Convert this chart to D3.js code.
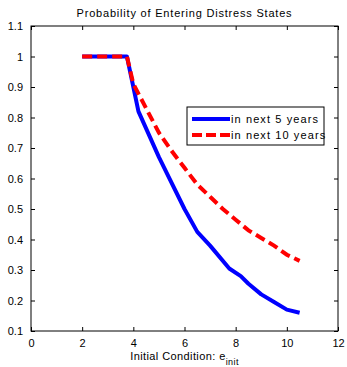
<!DOCTYPE html>
<html>
<head>
<meta charset="utf-8">
<script src="https://cdn.jsdelivr.net/npm/d3@7"></script>
<style>
  body { margin: 0; background: #fff; }
  text { font-family: "Liberation Sans", Arial, sans-serif; fill: #000; }
</style>
</head>
<body>
<svg id="chart" width="347" height="367"></svg>
<script>
// data
const fiveYearX = [2, 3.75, 4.2, 5, 6, 6.5, 7, 7.75, 8.2, 8.5, 9, 9.5, 10, 10.5]
const fiveYearY = [1, 1, 0.82, 0.67, 0.5, 0.425, 0.38, 0.305, 0.28, 0.255, 0.22, 0.195, 0.17, 0.16]
const tenYearX = [2, 3.75, 4, 4.5, 5, 5.5, 6, 6.5, 7, 7.5, 8, 8.5, 9, 9.5, 10, 10.5]
const tenYearY = [1, 1, 0.91, 0.83, 0.75, 0.69, 0.635, 0.58, 0.54, 0.5, 0.465, 0.43, 0.405, 0.38, 0.35, 0.33]
const xTicks = [0, 2, 4, 6, 8, 10, 12]
const yTicks = [0.1, 0.2, 0.3, 0.4, 0.5, 0.6, 0.7, 0.8, 0.9, 1, 1.1]
const seriesNames = ['in next 5 years', 'in next 10 years']

const svg = d3.select('#chart')
const margin = { left: 31, right: 9, top: 26, bottom: 36 }
const width = 347 - margin.left - margin.right
const height = 367 - margin.top - margin.bottom

const x = d3.scaleLinear().domain([0, 12]).range([0, width])
const y = d3.scaleLinear().domain([0.1, 1.1]).range([height, 0])

const g = svg.append('g').attr('transform', `translate(${margin.left},${margin.top})`)

// axes with inward ticks on all sides
const tickLen = 4
g.append('g')
	.attr('transform', `translate(0,${height})`)
	.call(d3.axisBottom(x).tickValues(xTicks).tickSizeInner(-tickLen).tickSizeOuter(0).tickPadding(8))
g.append('g')
	.call(d3.axisTop(x).tickValues(xTicks).tickSizeInner(-tickLen).tickSizeOuter(0).tickFormat(''))
g.append('g')
	.call(d3.axisLeft(y).tickValues(yTicks).tickSizeInner(-tickLen).tickSizeOuter(0).tickPadding(8).tickFormat(d3.format('~g')))
g.append('g')
	.attr('transform', `translate(${width},0)`)
	.call(d3.axisRight(y).tickValues(yTicks).tickSizeInner(-tickLen).tickSizeOuter(0).tickFormat(''))

g.selectAll('.domain').remove()
g.selectAll('.tick line').attr('stroke', '#000')
g.selectAll('.tick text').attr('font-size', 11).attr('font-family', '"Liberation Sans", Arial, sans-serif')

g.append('rect')
	.attr('width', width).attr('height', height)
	.attr('fill', 'none').attr('stroke', '#000').attr('stroke-width', 1)

// lines
const line = d3.line().x(d => x(d[0])).y(d => y(d[1]))
const fiveYear = fiveYearX.map((v, i) => [v, fiveYearY[i]])
const tenYear = tenYearX.map((v, i) => [v, tenYearY[i]])

g.append('path').datum(fiveYear)
	.attr('d', line)
	.attr('fill', 'none').attr('stroke', '#0000ff').attr('stroke-width', 4)
	.attr('stroke-linejoin', 'round')
g.append('path').datum(tenYear)
	.attr('d', line)
	.attr('fill', 'none').attr('stroke', '#ff0000').attr('stroke-width', 4)
	.attr('stroke-dasharray', '10,5')

// legend
const legend = svg.append('g').attr('transform', 'translate(187,107)')
legend.append('rect')
	.attr('width', 137).attr('height', 38)
	.attr('fill', '#fff').attr('stroke', '#000').attr('stroke-width', 1)
const styles = [{ color: '#0000ff', dash: null }, { color: '#ff0000', dash: '10,4' }]
seriesNames.forEach((name, i) => {
	const row = legend.append('g').attr('transform', `translate(0,${12 + i * 16})`)
	row.append('line')
		.attr('x1', 5).attr('x2', 43)
		.attr('stroke', styles[i].color).attr('stroke-width', 4)
		.attr('stroke-dasharray', styles[i].dash)
	row.append('text')
		.attr('x', 44).attr('dy', '0.35em')
		.attr('font-size', 11)
		.attr('letter-spacing', 1.1)
		.text(name)
})

// title
svg.append('text')
	.attr('x', margin.left + width / 2).attr('y', 17)
	.attr('text-anchor', 'middle').attr('font-size', 11)
	.attr('letter-spacing', 0.8)
	.text('Probability of Entering Distress States')

// x label with subscript
const xl = svg.append('text')
	.attr('x', margin.left + width / 2).attr('y', 360)
	.attr('text-anchor', 'middle').attr('font-size', 11)
	.attr('letter-spacing', 0.4)
xl.append('tspan').text('Initial Condition: e')
xl.append('tspan').attr('font-size', 9).attr('dy', 5).text('init')
</script>
</body>
</html>
